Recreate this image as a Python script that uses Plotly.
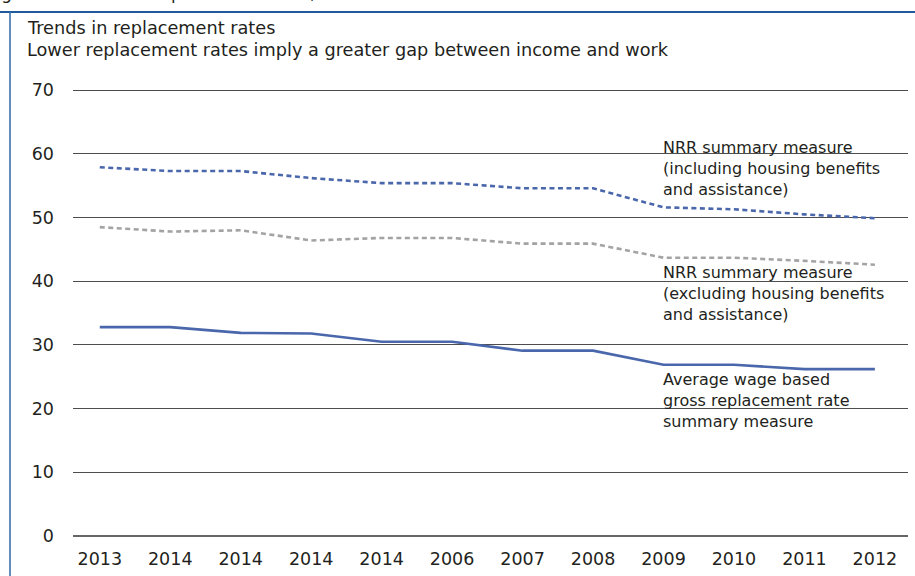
import plotly.graph_objects as go

years = ["2013", "2014", "2014", "2014", "2014", "2006", "2007", "2008", "2009", "2010", "2011", "2012"]
nrr_incl = [57.9, 57.3, 57.3, 56.2, 55.4, 55.4, 54.6, 54.6, 51.6, 51.3, 50.5, 49.9]
nrr_excl = [48.5, 47.8, 48.0, 46.4, 46.8, 46.8, 45.9, 45.9, 43.7, 43.7, 43.2, 42.6]
gross = [32.8, 32.8, 31.9, 31.8, 30.5, 30.5, 29.1, 29.1, 26.9, 26.9, 26.2, 26.2]
y_ticks = [0, 10, 20, 30, 40, 50, 60, 70]

label_incl = "NRR summary measure<br>(including housing benefits<br>and assistance)"
label_excl = "NRR summary measure<br>(excluding housing benefits<br>and assistance)"
label_gross = "Average wage based<br>gross replacement rate<br>summary measure"

FONT = "DejaVu Sans"
BLUE = "#4a67ac"
GREY = "#a3a3a3"
TXT = "#231f20"

W, H = 915, 576
L, R, T, B = 73, 7, 87, 40
pw, ph = W - L - R, H - T - B

def px(x):
    return (x - L) / pw

def py(y):
    return (H - B - y) / ph

xs = list(range(len(years)))

fig = go.Figure()
fig.add_trace(go.Scatter(x=xs, y=nrr_incl, mode="lines",
                         line=dict(color=BLUE, width=2.6, dash="5px,3.5px"),
                         name="incl", showlegend=False, hoverinfo="skip"))
fig.add_trace(go.Scatter(x=xs, y=nrr_excl, mode="lines",
                         line=dict(color=GREY, width=2.6, dash="5px,3.5px"),
                         name="excl", showlegend=False, hoverinfo="skip"))
fig.add_trace(go.Scatter(x=xs, y=gross, mode="lines",
                         line=dict(color=BLUE, width=2.6),
                         name="gross", showlegend=False, hoverinfo="skip"))

ann = []
ann.append(dict(text="Figure 3.  Trends in replacement rates, OECD", x=px(-14), y=py(5),
                xref="paper", yref="paper", xanchor="left", yanchor="bottom",
                showarrow=False, font=dict(family=FONT, size=17, color=TXT)))
ann.append(dict(text="Trends in replacement rates", x=px(25), y=py(28),
                xref="paper", yref="paper", xanchor="left", yanchor="middle",
                showarrow=False, font=dict(family=FONT, size=17.7, color=TXT)))
ann.append(dict(text="Lower replacement rates imply a greater gap between income and work",
                x=px(25), y=py(50), xref="paper", yref="paper", xanchor="left",
                yanchor="middle", showarrow=False, font=dict(family=FONT, size=17.7, color=TXT)))
for txt, ytop in [(label_incl, 136), (label_excl, 261), (label_gross, 368)]:
    ann.append(dict(text=txt, x=px(661), y=py(ytop), xref="paper", yref="paper",
                    xanchor="left", yanchor="top", align="left", showarrow=False,
                    font=dict(family=FONT, size=16, color=TXT)))

shapes = [
    dict(type="line", xref="paper", yref="paper", x0=px(0), x1=px(W), y0=py(12), y1=py(12),
         line=dict(color="#1d5b9c", width=2)),
    dict(type="line", xref="paper", yref="paper", x0=px(10), x1=px(10), y0=py(12), y1=py(H + 2),
         line=dict(color="#3f6fab", width=1.6)),
]

fig.update_layout(
    width=W, height=H,
    margin=dict(l=L, r=R, t=T, b=B),
    paper_bgcolor="white", plot_bgcolor="white",
    annotations=ann, shapes=shapes,
    font=dict(family=FONT, color=TXT),
)
fig.update_xaxes(range=[-0.38, 11.47], tickmode="array", tickvals=xs, ticktext=years,
                 showgrid=False, zeroline=False, showline=False,
                 tickfont=dict(family=FONT, size=17.5, color=TXT), ticklabelstandoff=10)
fig.update_yaxes(range=[0, 70.5], tickmode="array", tickvals=y_ticks,
                 showgrid=True, gridcolor="#4d4d4d", gridwidth=1.2,
                 zeroline=True, zerolinecolor="#666666", zerolinewidth=2.2,
                 showline=False, tickfont=dict(family=FONT, size=17.5, color=TXT),
                 ticklabelstandoff=18)

fig.write_html("out.html")
